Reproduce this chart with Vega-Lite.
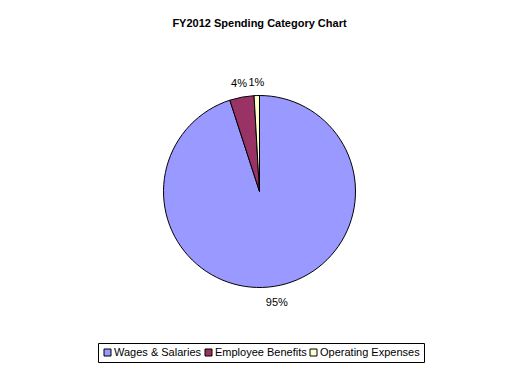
{
  "$schema": "https://vega.github.io/schema/vega-lite/v6.json",
  "width": 519,
  "height": 303,
  "autosize": {"type": "none"},
  "padding": {"left": 0, "top": 40, "right": 1, "bottom": 30},
  "background": "white",
  "title": {
    "text": "FY2012 Spending Category Chart",
    "font": "Liberation Sans",
    "fontSize": 11,
    "fontWeight": "bold",
    "color": "black",
    "anchor": "middle",
    "offset": 11
  },
  "data": {
    "values": [
      {"category": "Wages & Salaries", "amount": 95.0, "label": "95%", "order": 1},
      {"category": "Employee Benefits", "amount": 4.1, "label": "4%", "order": 2},
      {"category": "Operating Expenses", "amount": 0.9, "label": "1%", "order": 3}
    ]
  },
  "encoding": {
    "theta": {"field": "amount", "type": "quantitative", "stack": true},
    "order": {"field": "order", "type": "quantitative"}
  },
  "layer": [
    {
      "mark": {"type": "arc", "radius": 96, "stroke": "black", "strokeWidth": 1},
      "encoding": {
        "color": {
          "field": "category",
          "type": "nominal",
          "scale": {
            "domain": ["Wages & Salaries", "Employee Benefits", "Operating Expenses"],
            "range": ["#9999FF", "#993366", "#FFFFCC"]
          },
          "legend": {
            "orient": "none",
            "direction": "horizontal",
            "legendX": 98,
            "legendY": 303,
            "title": null,
            "symbolType": "square",
            "symbolSize": 49,
            "symbolStrokeColor": "black",
            "symbolStrokeWidth": 1,
            "labelFont": "Liberation Sans",
            "labelFontSize": 11,
            "labelColor": "black",
            "labelOffset": 1,
            "columnPadding": 1,
            "strokeColor": "black",
            "padding": 4,
            "fillColor": "white"
          }
        }
      }
    },
    {
      "mark": {"type": "text", "radius": 111, "font": "Liberation Sans", "fontSize": 11, "fill": "black", "dy": 2},
      "encoding": {
        "text": {"field": "label", "type": "nominal"}
      }
    }
  ]
}
